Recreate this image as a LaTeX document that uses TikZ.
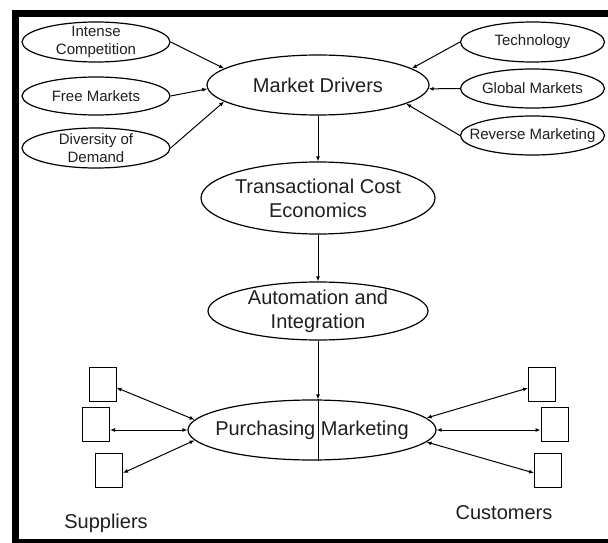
\documentclass[tikz,border=0pt]{standalone}
\usepackage{fontspec}
\setmainfont{Liberation Sans}
\usetikzlibrary{shapes.geometric,arrows.meta}
\tikzset{
  oval/.style={draw, ellipse, line width=1.2pt, inner sep=0pt},
  stxt/.style={align=center, inner sep=0pt, text=black!88, font=\fontsize{15}{18}\selectfont},
  btxt/.style={align=center, inner sep=0pt, text=black!88, font=\fontsize{20}{24}\selectfont},
  small/.style={oval, label={[stxt]center:#1}},
  big/.style={oval, label={[btxt]center:#1}},
  party/.style={draw, rectangle, line width=1pt, minimum width=27pt, minimum height=34pt, inner sep=0pt},
  lab/.style={font=\fontsize{20}{24}\selectfont, text=black!88, inner sep=0pt},
  arr/.style={line width=1pt, -{Latex[length=5pt,width=4pt]}},
  darr/.style={line width=1pt, {Latex[length=5pt,width=4pt]}-{Latex[length=5pt,width=4pt]}}
}
\begin{document}
\begin{tikzpicture}[x=1pt,y=-1pt]
\useasboundingbox (0,0) rectangle (608,543);
\clip (0,0) rectangle (608,543);
\fill[white] (0,0) rectangle (608,543);
\draw[line width=7pt] (620,13.5) -- (15,13.5) -- (15,542.5) -- (620,542.5);

% driver ellipses
\node[small={Intense\\Competition}, minimum width=148pt, minimum height=40pt] (ic) at (96,42) {};
\node[small={Free Markets}, minimum width=148pt, minimum height=38pt] (fm) at (96,96) {};
\node[small={Diversity of\\Demand}, minimum width=148pt, minimum height=40pt] (dd) at (96,148) {};
\node[small={Technology}, minimum width=144pt, minimum height=40pt] (te) at (532.5,42) {};
\node[small={Global Markets}, minimum width=144pt, minimum height=39pt] (gm) at (532.5,88.5) {};
\node[small={Reverse Marketing}, minimum width=144pt, minimum height=39pt] (rm) at (532.5,135.5) {};

% main chain
\node[big={Market Drivers}, minimum width=222pt, minimum height=60pt] (md) at (318,85) {};
\node[big={Transactional Cost\\Economics}, minimum width=234pt, minimum height=72pt] (tc) at (318,198) {};
\node[big={Automation and\\Integration}, minimum width=220pt, minimum height=58pt] (ai) at (318,311) {};
\node[big={Purchasing Marketing}, minimum width=248pt, minimum height=60pt] (pm) at (312,430) {};

% parties
\node[party] (s1) at (102.5,384) {};
\node[party] (s2) at (96,424) {};
\node[party] (s3) at (109,470) {};
\node[party] (c1) at (542,384) {};
\node[party] (c2) at (554.5,424) {};
\node[party] (c3) at (548,470) {};

\node[lab] (sup) at (106,523) {Suppliers};
\node[lab] (cus) at (504,513) {Customers};

% driver arrows
\draw[arr] (ic.east) -- (md.170);
\draw[arr] (fm.east) -- (md.182);
\draw[arr] (dd.east) -- (md.190);
\draw[arr] (te.west) -- (md.10);
\draw[arr] (gm.west) -- (md.358);
\draw[arr] (rm.west) -- (md.348);

% chain arrows
\draw[arr] (md.south) -- (tc.north);
\draw[arr] (tc.south) -- (ai.north);
\coordinate (pt) at (ai.south |- pm.north);
\coordinate (pb) at (ai.south |- pm.south);
\draw[arr] (ai.south) -- (pt);
\draw[line width=1pt] (pt) -- (pb);

% party arrows
\draw[darr] (s1.-15) -- (pm.175);
\draw[darr] (s2.east |- pm.west) -- (pm.west);
\draw[darr] (s3.-12) -- (pm.185);
\draw[darr] (pm.6) -- (c1.196);
\draw[darr] (pm.east) -- (c2.west |- pm.east);
\draw[darr] (pm.354) -- (c3.192);
\end{tikzpicture}
\end{document}
